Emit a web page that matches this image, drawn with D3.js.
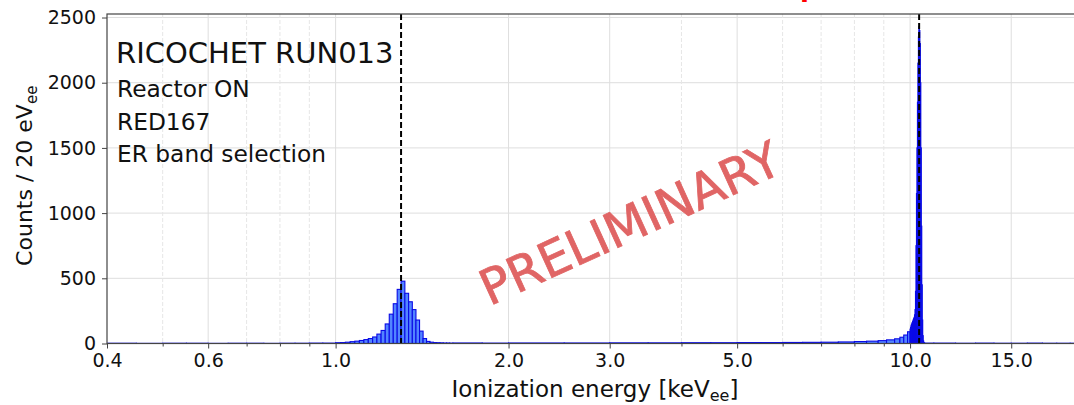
<!DOCTYPE html>
<html>
<head>
<meta charset="utf-8">
<script src="https://cdn.jsdelivr.net/npm/d3@7"></script>
<style>
  html, body { margin: 0; padding: 0; background: #fff; }
  svg { display: block; font-family: 'DejaVu Sans', sans-serif; }
</style>
</head>
<body>
<div id="container"></div>
<script>
// Ionization energy spectrum, counts per 20 eV bin

//### DATA ###
//>>> Flat background below the L-shell peak (keV edges, counts / 20 eV)
const lowBgEdges = [ 0.40, 0.45, 0.50, 0.55, 0.60, 0.65, 0.70, 0.75, 0.80, 0.85, 0.90, 0.95, 1.00 ];
const lowBgCounts = [ 2, 1, 2, 2, 1, 2, 2, 1, 2, 2, 3, 3 ];

//>>> L-shell peak, 20 eV bins starting at 1.00 keV
const peakLStart = 1.00;
const peakLCounts = [ 6, 7, 10, 14, 18, 23, 30, 38, 50, 72, 100, 150, 225, 305, 415, 478,
  385, 320, 260, 180, 95, 38, 16, 10, 7, 6, 5, 4, 4, 3 ];

//>>> Background between the two peaks
const midBgEdges = [ 1.6, 1.8, 2.0, 2.5, 3.0, 3.5, 4.0, 4.5, 5.0, 5.5, 6.0, 6.5, 7.0, 7.5, 8.0,
  8.4, 8.8, 9.1, 9.4, 9.6, 9.75, 9.9, 10.0 ];
const midBgCounts = [ 4, 3, 4, 4, 5, 5, 6, 6, 7, 7, 8, 9, 10, 12, 15, 18, 22, 28, 36, 48, 65, 90 ];

//>>> K-shell peak, 20 eV bins starting at 10.00 keV
const peakKStart = 10.00;
const peakKCounts = [ 110, 125, 140, 150, 160, 170, 180, 190, 200, 220, 260, 400, 750, 1150,
  1500, 1850, 2150, 2350, 2430, 2400, 2300, 2000, 1500, 900, 450, 180, 60, 20, 8, 4 ];

//>>> Background above the K-shell peak
const highBgEdges = [ 10.6, 11, 12, 13, 14, 15, 16, 17, 18, 19, 20 ];
const highBgCounts = [ 3, 3, 2, 3, 2, 2, 3, 2, 2, 2 ];

//>>> Reference lines (keV) and ticks
const refLines = [ 1.30, 10.37 ];
const xMajorTicks = [ 0.4, 0.6, 1.0, 2.0, 3.0, 5.0, 10.0, 15.0 ];
const xMinorTicks = [ 0.5, 0.7, 0.8, 0.9, 4, 6, 7, 8, 9 ];
const yTicks = [ 0, 500, 1000, 1500, 2000, 2500 ];
const infoLines = [ 'Reactor ON', 'RED167', 'ER band selection' ];

const binWidth = 0.02;

drawChart();

function drawChart () {
  //_____ BUILD THE BINS _____
  const fromEdges = ( edges, counts ) => counts.map( ( c, i ) => ( { lo: edges[ i ], hi: edges[ i + 1 ], count: c } ) );
  const fromStart = ( start, counts ) => counts.map( ( c, i ) => ( { lo: start + i * binWidth, hi: start + ( i + 1 ) * binWidth, count: c } ) );

  const bins = [].concat(
    fromEdges( lowBgEdges, lowBgCounts ),
    fromStart( peakLStart, peakLCounts ),
    fromEdges( midBgEdges, midBgCounts ),
    fromStart( peakKStart, peakKCounts ),
    fromEdges( highBgEdges, highBgCounts )
  );

  //_____ LAYOUT _____
  const W = 1074, H = 405;
  const pLeft = 107, pRight = 1083, pTop = 14, pBottom = 343.5;
  const fillBlue = '#5285ff';
  const edgeBlue = '#0a0ae6';
  const gridColor = '#dedede';
  const axisColor = '#444';

  const x = d3.scaleLog().domain( [ 0.4, 20 ] ).range( [ pLeft, pRight ] );
  const y = d3.scaleLinear().domain( [ 0, 2527 ] ).range( [ pBottom, pTop ] );

  const svg = d3.select( '#container' ).append( 'svg' )
    .attr( 'width', W )
    .attr( 'height', H );

  svg.append( 'clipPath' ).attr( 'id', 'plot-clip' )
    .append( 'rect' )
    .attr( 'x', pLeft ).attr( 'y', pTop )
    .attr( 'width', pRight - pLeft ).attr( 'height', pBottom - pTop );

  //_____ GRID _____
  const grid = svg.append( 'g' ).attr( 'clip-path', 'url(#plot-clip)' );
  grid.selectAll( '.hgrid' ).data( yTicks.slice( 1 ) ).enter().append( 'line' )
    .attr( 'x1', pLeft ).attr( 'x2', pRight )
    .attr( 'y1', d => y( d ) ).attr( 'y2', d => y( d ) )
    .attr( 'stroke', gridColor ).attr( 'stroke-width', 1 );
  grid.selectAll( '.vgrid' ).data( xMajorTicks.slice( 1 ) ).enter().append( 'line' )
    .attr( 'x1', d => x( d ) ).attr( 'x2', d => x( d ) )
    .attr( 'y1', pTop ).attr( 'y2', pBottom )
    .attr( 'stroke', gridColor ).attr( 'stroke-width', 1 );
  grid.selectAll( '.vminor' ).data( xMinorTicks ).enter().append( 'line' )
    .attr( 'x1', d => x( d ) ).attr( 'x2', d => x( d ) )
    .attr( 'y1', pTop ).attr( 'y2', pBottom )
    .attr( 'stroke', '#e6e6e6' ).attr( 'stroke-width', 1 )
    .attr( 'stroke-dasharray', '4,2' );

  //_____ HISTOGRAM _____
  svg.append( 'g' ).attr( 'clip-path', 'url(#plot-clip)' )
    .selectAll( 'rect' ).data( bins ).enter().append( 'rect' )
    .attr( 'x', d => x( d.lo ) )
    .attr( 'width', d => x( d.hi ) - x( d.lo ) )
    .attr( 'y', d => y( d.count ) )
    .attr( 'height', d => y( 0 ) - y( d.count ) )
    .attr( 'fill', fillBlue )
    .attr( 'stroke', edgeBlue )
    .attr( 'stroke-width', 1.1 );

  //_____ REFERENCE LINES _____
  svg.selectAll( '.ref' ).data( refLines ).enter().append( 'line' )
    .attr( 'x1', d => x( d ) ).attr( 'x2', d => x( d ) )
    .attr( 'y1', pTop ).attr( 'y2', pBottom )
    .attr( 'stroke', '#000' ).attr( 'stroke-width', 2 )
    .attr( 'stroke-dasharray', '6,3' );

  //_____ AXES _____
  const xAxis = svg.append( 'g' )
    .attr( 'transform', `translate(0,${pBottom})` )
    .call( d3.axisBottom( x ).tickValues( xMajorTicks ).tickFormat( d3.format( '.1f' ) ).tickSize( 5 ).tickPadding( 5 ) );
  const xMinor = svg.append( 'g' )
    .attr( 'transform', `translate(0,${pBottom})` )
    .call( d3.axisBottom( x ).tickValues( xMinorTicks ).tickFormat( '' ).tickSize( 3 ) );
  const yAxis = svg.append( 'g' )
    .attr( 'transform', `translate(${pLeft},0)` )
    .call( d3.axisLeft( y ).tickValues( yTicks ).tickFormat( d3.format( 'd' ) ).tickSize( 5 ).tickPadding( 6 ) );

  [ xAxis, xMinor, yAxis ].forEach( g => {
    g.select( '.domain' ).remove();
    g.selectAll( 'line' ).attr( 'stroke', axisColor ).attr( 'stroke-width', 1 );
    g.selectAll( 'text' ).attr( 'fill', '#111' ).style( 'font-size', '19px' ).style( 'font-family', 'DejaVu Sans' );
  } );

  //>>> Spines (the right one falls outside the window)
  svg.append( 'rect' )
    .attr( 'x', pLeft ).attr( 'y', pTop )
    .attr( 'width', pRight - pLeft ).attr( 'height', pBottom - pTop )
    .attr( 'fill', 'none' ).attr( 'stroke', axisColor ).attr( 'stroke-width', 1.2 );

  //_____ AXIS LABELS _____
  const xLabel = svg.append( 'text' )
    .attr( 'x', 595 ).attr( 'y', 397 )
    .attr( 'text-anchor', 'middle' )
    .style( 'font-size', '23px' ).attr( 'fill', '#111' );
  xLabel.append( 'tspan' ).text( 'Ionization energy [keV' );
  xLabel.append( 'tspan' ).attr( 'dy', 4 ).style( 'font-size', '16px' ).text( 'ee' );
  xLabel.append( 'tspan' ).attr( 'dy', -4 ).text( ']' );

  const yLabel = svg.append( 'text' )
    .attr( 'transform', `translate(32,${( pTop + pBottom ) / 2 - 3}) rotate(-90)` )
    .attr( 'text-anchor', 'middle' )
    .style( 'font-size', '22px' ).attr( 'fill', '#111' );
  yLabel.append( 'tspan' ).text( 'Counts / 20 eV' );
  yLabel.append( 'tspan' ).attr( 'dy', 5 ).style( 'font-size', '15px' ).text( 'ee' );

  //_____ ANNOTATIONS _____
  svg.append( 'text' )
    .attr( 'x', 116 ).attr( 'y', 63 )
    .style( 'font-size', '29px' ).attr( 'fill', '#111' )
    .text( 'RICOCHET RUN013' );

  svg.selectAll( '.info' ).data( infoLines ).enter().append( 'text' )
    .attr( 'x', 117 )
    .attr( 'y', ( d, i ) => 97 + i * 32.5 )
    .style( 'font-size', '23.3px' ).attr( 'fill', '#111' )
    .text( d => d );

  //>>> Watermark
  svg.append( 'text' )
    .attr( 'transform', 'translate(637,239) rotate(-24.5)' )
    .attr( 'text-anchor', 'middle' )
    .style( 'font-size', '49px' )
    .attr( 'fill', '#e06565' )
    .attr( 'stroke', '#e06565' )
    .attr( 'stroke-width', 0.8 )
    .text( 'PRELIMINARY' );

  //>>> Cut-off red title at the very top
  svg.append( 'text' )
    .attr( 'x', 800 ).attr( 'y', -4 )
    .style( 'font-size', '26px' ).style( 'font-weight', 'bold' )
    .attr( 'fill', '#ff0000' )
    .text( 'p' );
}
</script>
</body>
</html>
